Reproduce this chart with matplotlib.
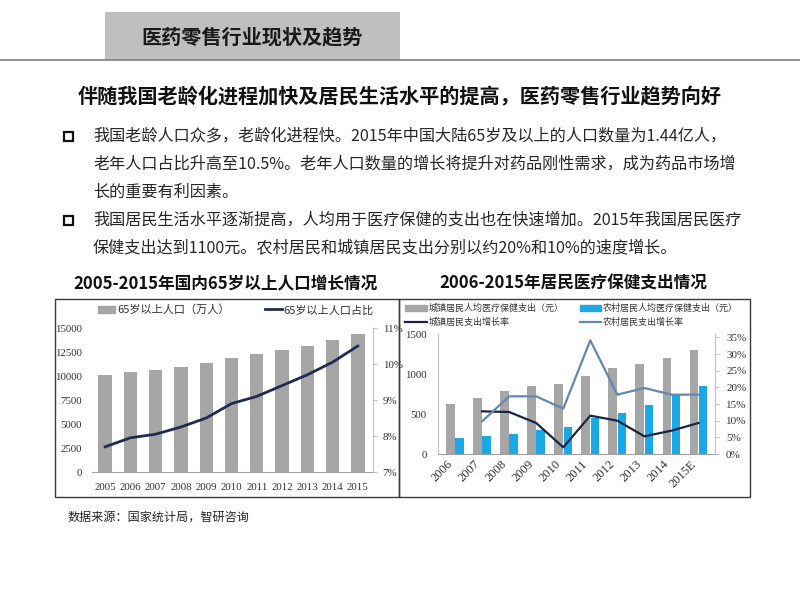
import matplotlib
matplotlib.use("Agg")
import matplotlib.pyplot as plt
import matplotlib.transforms as mtransforms
import numpy as np
from matplotlib.lines import Line2D
from matplotlib.patches import Patch, Rectangle
from matplotlib.ticker import FuncFormatter

plt.rcParams['font.family'] = ['Noto Sans CJK SC', 'DejaVu Sans']

W, H = 800, 600

# ---- data: 65+ population ---------------------------------------------
pop_years = ["2005", "2006", "2007", "2008", "2009", "2010",
             "2011", "2012", "2013", "2014", "2015"]
pop_65 = [10100, 10420, 10640, 10960, 11310, 11890,
          12290, 12710, 13160, 13760, 14390]          # 万人
pop_share = [7.7, 7.95, 8.05, 8.25, 8.5, 8.9,
             9.1, 9.4, 9.7, 10.05, 10.5]              # %

# ---- data: health spending per capita ---------------------------------
exp_years = ["2006", "2007", "2008", "2009", "2010",
             "2011", "2012", "2013", "2014", "2015E"]
urban_exp = [620, 700, 785, 855, 870, 980, 1070, 1120, 1195, 1305]
rural_exp = [200, 220, 250, 300, 335, 445, 515, 615, 745, 850]
urban_growth = [np.nan, 12.8, 12.6, 9.3, 2.0, 11.5, 10.0, 5.3, 7.0, 9.3]
rural_growth = [np.nan, 9.8, 17.3, 17.3, 13.6, 34.1, 17.8, 19.8, 17.8, 17.8]

bullets = [
    ["我国老龄人口众多，老龄化进程快。2015年中国大陆65岁及以上的人口数量为1.44亿人，",
     "老年人口占比升高至10.5%。老年人口数量的增长将提升对药品刚性需求，成为药品市场增",
     "长的重要有利因素。"],
    ["我国居民生活水平逐渐提高，人均用于医疗保健的支出也在快速增加。2015年我国居民医疗",
     "保健支出达到1100元。农村居民和城镇居民支出分别以约20%和10%的速度增长。"],
]

GRAY_BAR = "#a6a6a6"
NAVY = "#1f2b52"
BLUE_BAR = "#19a9e6"
DARK_LINE = "#1b2340"
LIGHT_LINE = "#6387b3"
AXIS_GRAY = "#a0a0a0"
SERIF = "Liberation Serif"


def rect(x0, y0, x1, y1):
    """Pixel box (top-left origin) -> figure fraction [l, b, w, h]."""
    return [x0 / W, 1 - y1 / H, (x1 - x0) / W, (y1 - y0) / H]


def fy(y):
    return 1 - y / H


pct = FuncFormatter(lambda v, _: f"{v:.0f}%")

fig = plt.figure(figsize=(8, 6), dpi=100)

# ---- slide header -------------------------------------------------------
fig.add_artist(Rectangle((105 / W, fy(60)), 295 / W, 48 / H,
                         transform=fig.transFigure, color="#bfbfbf", lw=0))
fig.add_artist(Line2D([0, 1], [fy(60), fy(60)], color="#7f7f7f", lw=1.2,
                      transform=fig.transFigure))
fig.text(252 / W, fy(37), "医药零售行业现状及趋势", ha="center", va="center",
         fontsize=14.5, fontweight="bold", color="#1a1a1a")
fig.text(400 / W, fy(97),
         "伴随我国老龄化进程加快及居民生活水平的提高，医药零售行业趋势向好",
         ha="center", va="center", fontsize=14.5, fontweight="bold",
         color="#111111")

# ---- bullet text --------------------------------------------------------
line_y = 136
for para in bullets:
    fig.add_artist(Rectangle((64 / W, fy(line_y + 5)), 9 / W, 9 / H,
                             transform=fig.transFigure, fill=False,
                             ec="#111111", lw=1.6))
    for text in para:
        fig.text(93 / W, fy(line_y), text, ha="left", va="center",
                 fontsize=11.6, color="#262626")
        line_y += 28

fig.text(225 / W, fy(283), "2005-2015年国内65岁以上人口增长情况",
         ha="center", va="center", fontsize=12, fontweight="bold",
         color="#111111")
fig.text(573 / W, fy(283), "2006-2015年居民医疗保健支出情况",
         ha="center", va="center", fontsize=12, fontweight="bold",
         color="#111111")

# chart frames
for x0, x1 in ((55, 399), (399, 750)):
    fig.add_artist(Rectangle((x0 / W, fy(497)), (x1 - x0) / W, 198 / H,
                             transform=fig.transFigure, fill=False,
                             ec="#3a3a3a", lw=1.0))

fig.text(68 / W, fy(517), "数据来源：国家统计局，智研咨询", ha="left",
         va="center", fontsize=8.7, color="#262626")

# ---- left chart: 65+ population ---------------------------------------
ax1 = fig.add_axes(rect(92, 328, 373, 472))
x1 = np.arange(len(pop_years))
ax1.bar(x1, pop_65, width=0.53, color=GRAY_BAR)
ax1.set_xlim(-0.52, len(pop_years) - 0.4)
ax1.set_ylim(0, 15000)
ax1.set_yticks(range(0, 15001, 2500))
ax1.set_xticks(x1, pop_years)
for side in ("top", "left", "right"):
    ax1.spines[side].set_visible(False)
ax1.spines["bottom"].set_color(AXIS_GRAY)
ax1.tick_params(axis="y", length=0, pad=7, labelsize=7.8,
                labelcolor="#333333", labelfontfamily=SERIF)
ax1.tick_params(axis="x", length=0, pad=8, labelsize=7.8,
                labelcolor="#333333", labelfontfamily=SERIF)

ax1b = ax1.twinx()
ax1b.plot(x1, pop_share, color=NAVY, lw=2)
ax1b.set_ylim(7, 11)
ax1b.set_yticks([7, 8, 9, 10, 11])
ax1b.yaxis.set_major_formatter(pct)
for side in ("top", "left", "bottom"):
    ax1b.spines[side].set_visible(False)
ax1b.spines["right"].set_color("#c0c0c0")
ax1b.tick_params(axis="y", direction="out", length=3, color="#c0c0c0",
                 pad=4, labelsize=7.8, labelcolor="#333333",
                 labelfontfamily=SERIF)

fig.legend([Patch(color=GRAY_BAR), Line2D([], [], color=NAVY, lw=2)],
           ["65岁以上人口（万人）", "65岁以上人口占比"],
           loc="center left", bbox_to_anchor=(98 / W, fy(310)), ncol=2,
           frameon=False, fontsize=8, handlelength=1.5, handletextpad=0.2,
           columnspacing=3.2, borderpad=0, borderaxespad=0,
           labelcolor="#333333")

# ---- right chart: health spending -------------------------------------
ax2 = fig.add_axes(rect(438, 334, 715, 454))
x2 = np.arange(len(exp_years))
ax2.bar(x2 - 0.17, urban_exp, width=0.32, color=GRAY_BAR)
ax2.bar(x2 + 0.17, rural_exp, width=0.32, color=BLUE_BAR)
ax2.set_xlim(-0.63, len(exp_years) - 0.39)
ax2.set_ylim(0, 1500)
ax2.set_yticks([0, 500, 1000, 1500])
ax2.set_xticks(x2, exp_years, rotation=45, ha="right")
shift = mtransforms.ScaledTranslation(5 / 100, 0, fig.dpi_scale_trans)
for lbl in ax2.get_xticklabels():
    lbl.set_transform(lbl.get_transform() + shift)
ax2.spines["top"].set_visible(False)
ax2.spines["right"].set_visible(False)
ax2.spines["left"].set_color("#c0c0c0")
ax2.spines["bottom"].set_color(AXIS_GRAY)
ax2.tick_params(axis="y", length=0, pad=8, labelsize=7.8,
                labelcolor="#333333", labelfontfamily=SERIF)
ax2.tick_params(axis="x", length=0, pad=3, labelsize=9,
                labelcolor="#333333", labelfontfamily=SERIF)

ax2b = ax2.twinx()
ax2b.plot(x2, urban_growth, color=DARK_LINE, lw=1.6)
ax2b.plot(x2, rural_growth, color=LIGHT_LINE, lw=1.6)
ax2b.set_ylim(0, 36)
ax2b.set_yticks(range(0, 36, 5))
ax2b.yaxis.set_major_formatter(pct)
for side in ("top", "left", "bottom"):
    ax2b.spines[side].set_visible(False)
ax2b.spines["right"].set_color("#c0c0c0")
ax2b.tick_params(axis="y", direction="out", length=3, color="#c0c0c0",
                 pad=5, labelsize=8, labelcolor="#333333",
                 labelfontfamily=SERIF)

fig.legend([Patch(color=GRAY_BAR), Line2D([], [], color=DARK_LINE, lw=1.6),
            Patch(color=BLUE_BAR), Line2D([], [], color=LIGHT_LINE, lw=1.6)],
           ["城镇居民人均医疗保健支出（元）", "城镇居民支出增长率",
            "农村居民人均医疗保健支出（元）", "农村居民支出增长率"],
           loc="upper left", bbox_to_anchor=(405 / W, fy(304)), ncol=2,
           frameon=False, fontsize=6.5, handlelength=2.4, handletextpad=0.2,
           columnspacing=1.8, labelspacing=0.5, borderpad=0,
           borderaxespad=0, labelcolor="#333333")

fig.savefig("out.png", dpi=100)
